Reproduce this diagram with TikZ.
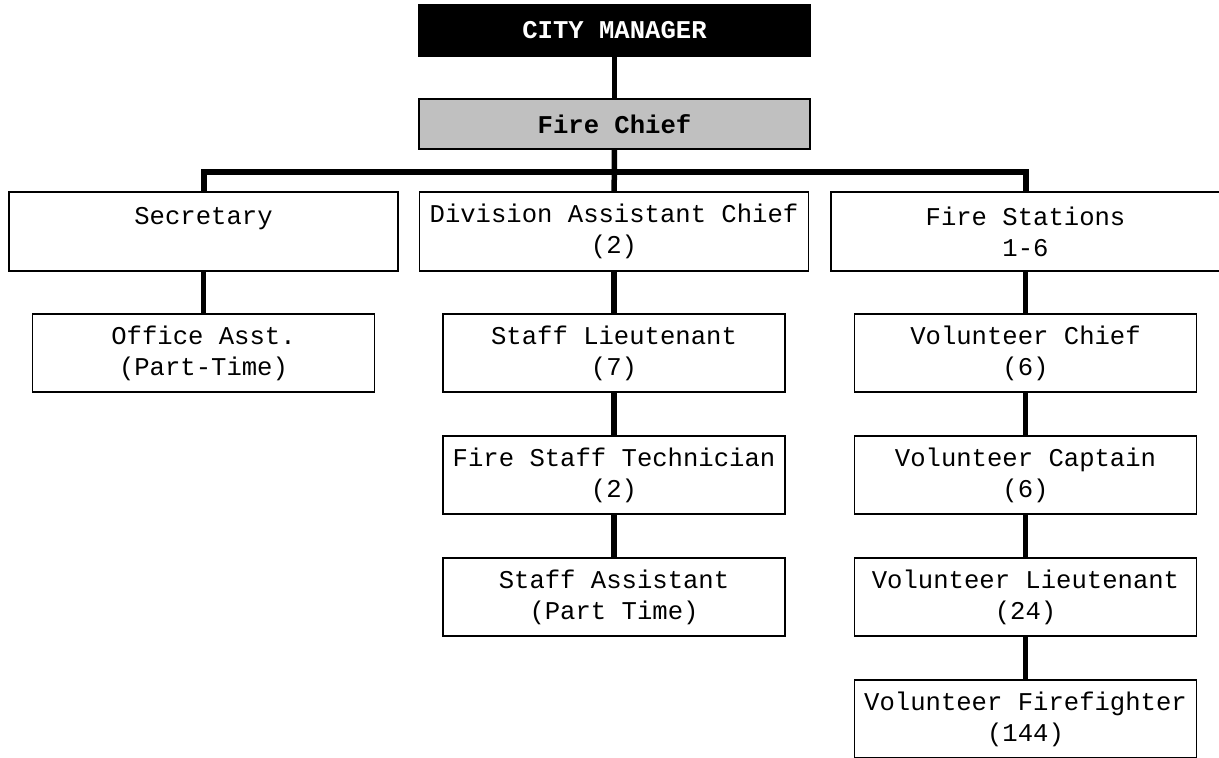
\documentclass[tikz,border=0pt]{standalone}
\usepackage{fontspec}
\newfontfamily\chartfont{Liberation Mono}
\usetikzlibrary{positioning}
\definecolor{chiefgray}{HTML}{C0C0C0}
\tikzset{%
  % Specifications for style of nodes:
         base/.style = {rectangle, draw=black, line width=0.75pt,
                        inner sep=0pt, outer sep=0pt, align=center,
                        font=\chartfont\fontsize{12.8pt}{15.5pt}\selectfont},
      manager/.style = {base, minimum width=195.5pt, minimum height=25.5pt,
                        fill=black, text=white,
                        font=\chartfont\bfseries\fontsize{12.8pt}{16pt}\selectfont},
        chief/.style = {base, minimum width=195.5pt, minimum height=25pt,
                        fill=chiefgray,
                        font=\chartfont\bfseries\fontsize{12.8pt}{16pt}\selectfont},
         unit/.style = {base, minimum width=194.5pt, minimum height=39.5pt},
         post/.style = {base, minimum width=171pt, minimum height=39pt},
  % Specifications for style of lines:
         conn/.style = {line width=2.75pt},
          bus/.style = {line width=3pt, line join=miter},
}
\begin{document}
\begin{tikzpicture}[x=0.5pt, y=-0.5pt, node distance=22pt]
  \useasboundingbox (0,0) rectangle (1219,758);
  % Specification of nodes (position, etc.)
  \node (cityManager)   [manager] at (614.5,30.5) {CITY MANAGER};
  \node (fireChief)     [chief]   at (614.5,124)  {Fire Chief};
  \node (secretary)     [unit]    at (203.5,231.5) {Secretary\\\mbox{}};
  \node (divisionChief) [unit]    at (614,231.5)   {Division Assistant Chief\\(2)};
  \node (fireStations)  [unit]    at (1025.5,231.5) {Fire Stations\\1-6};
  \coordinate (busLine) at (614,172);

  \node (officeAsst)      [post, below=21.5pt of secretary]     {Office Asst.\\(Part-Time)};
  \node (staffLieutenant) [post, below=21.5pt of divisionChief] {Staff Lieutenant\\(7)};
  \node (staffTechnician) [post, below=of staffLieutenant]      {Fire Staff Technician\\(2)};
  \node (staffAssistant)  [post, below=of staffTechnician]      {Staff Assistant\\(Part Time)};
  \node (volChief)        [post, below=21.5pt of fireStations]  {Volunteer Chief\\(6)};
  \node (volCaptain)      [post, below=of volChief]             {Volunteer Captain\\(6)};
  \node (volLieutenant)   [post, below=of volCaptain]           {Volunteer Lieutenant\\(24)};
  \node (volFirefighter)  [post, below=of volLieutenant]        {Volunteer Firefighter\\(144)};

  % Specification of lines between nodes specified above
  \draw[conn] (cityManager) -- (fireChief);
  \draw[conn] (fireChief) -- (divisionChief);
  \draw[bus]  (secretary.north) -- (secretary.north |- busLine) -| (fireStations.north);
  \draw[conn] (secretary) -- (officeAsst);
  \draw[conn] (divisionChief) -- (staffLieutenant);
  \draw[conn] (staffLieutenant) -- (staffTechnician);
  \draw[conn] (staffTechnician) -- (staffAssistant);
  \draw[conn] (fireStations) -- (volChief);
  \draw[conn] (volChief) -- (volCaptain);
  \draw[conn] (volCaptain) -- (volLieutenant);
  \draw[conn] (volLieutenant) -- (volFirefighter);
\end{tikzpicture}
\end{document}
